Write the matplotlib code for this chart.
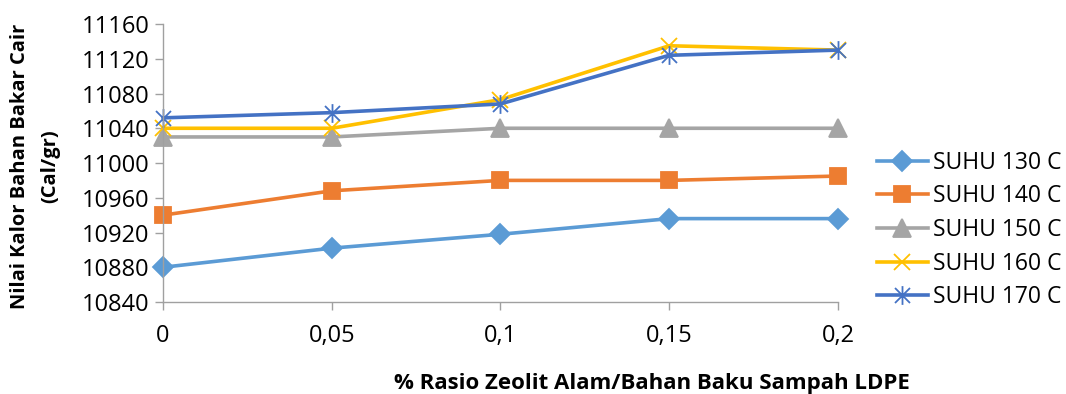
import matplotlib
matplotlib.use("Agg")
import matplotlib.pyplot as plt
from matplotlib.path import Path

plt.rcParams['font.family'] = ['Open Sans', 'DejaVu Sans']

# data
rasio = [0, 0.05, 0.1, 0.15, 0.2]
rasio_labels = ["0", "0,05", "0,1", "0,15", "0,2"]
suhu_130 = [10880, 10902, 10918, 10936, 10936]
suhu_140 = [10940, 10968, 10980, 10980, 10985]
suhu_150 = [11030, 11030, 11040, 11040, 11040]
suhu_160 = [11040, 11040, 11073, 11135, 11130]
suhu_170 = [11052, 11058, 11068, 11124, 11130]
y_ticks = [10840, 10880, 10920, 10960, 11000, 11040, 11080, 11120, 11160]

# excel-like star: vertical bar plus an X
star = Path([(0, -1), (0, 1), (-0.8, -0.8), (0.8, 0.8), (-0.8, 0.8), (0.8, -0.8)],
            [Path.MOVETO, Path.LINETO, Path.MOVETO, Path.LINETO, Path.MOVETO, Path.LINETO])

series = [
    ("SUHU 130 C", suhu_130, "#5B9BD5", "D", 10),
    ("SUHU 140 C", suhu_140, "#ED7D31", "s", 11.5),
    ("SUHU 150 C", suhu_150, "#A5A5A5", "^", 13),
    ("SUHU 160 C", suhu_160, "#FFC000", "x", 12),
    ("SUHU 170 C", suhu_170, "#4472C4", star, 13.5),
]

fig = plt.figure(figsize=(10.66, 3.94), dpi=100)
ax = fig.add_axes([0.153, 0.2335, 0.633, 0.7055])

for name, vals, color, marker, ms in series:
    ax.plot(rasio, vals, color=color, lw=2.6, marker=marker, ms=ms,
            mew=1.3, mec=color, mfc=color, label=name, clip_on=False)

ax.set_xlim(0, 0.2)
ax.set_ylim(10840, 11160)
ax.set_xticks(rasio)
ax.set_xticklabels(rasio_labels)
ax.set_yticks(y_ticks)
ax.tick_params(axis='both', labelsize=17, color='#A0A0A0', length=6, width=1)
ax.tick_params(axis='x', pad=10)
ax.tick_params(axis='y', pad=4)

for side in ["top", "right"]:
    ax.spines[side].set_visible(False)
for side in ["left", "bottom"]:
    ax.spines[side].set_color('#A0A0A0')
    ax.spines[side].set_linewidth(1)

fig.text(652 / 1066, 1 - 383 / 394, "% Rasio Zeolit Alam/Bahan Baku Sampah LDPE",
         ha='center', va='center', fontsize=16, fontweight='bold')
fig.text(20 / 1066, 1 - 166 / 394, "Nilai Kalor Bahan Bakar Cair",
         ha='center', va='center', rotation=90, fontsize=14.5, fontweight='bold')
fig.text(50 / 1066, 1 - 166 / 394, "(Cal/gr)",
         ha='center', va='center', rotation=90, fontsize=14.5, fontweight='bold')

fig.legend(loc='center left', bbox_to_anchor=(868 / 1066, 1 - 230 / 394),
           frameon=False, fontsize=16.5, handlelength=2.2, handletextpad=0.25,
           labelspacing=0.42, borderaxespad=0)

fig.savefig("out.png", dpi=100)
